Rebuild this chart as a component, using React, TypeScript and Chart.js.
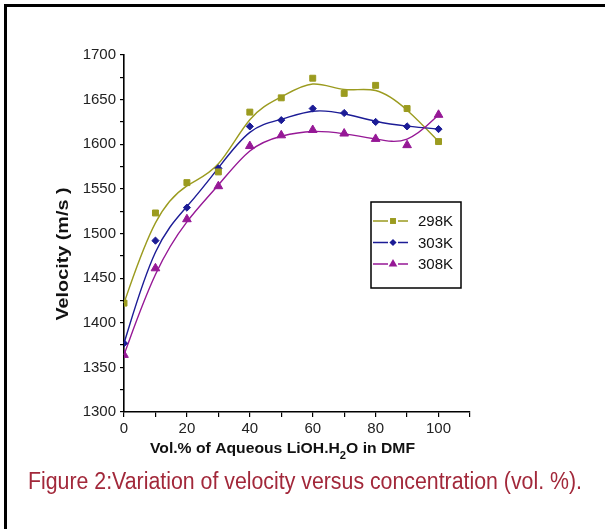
import { useEffect, useRef } from 'react';
import { Chart, registerables } from 'chart.js';

Chart.register(...registerables);

// Vol.% of aqueous LiOH.H2O in DMF
const concentrations = [0, 10, 20, 30, 40, 50, 60, 70, 80, 90, 100];
// Ultrasonic velocity (m/s) at each temperature
const velocity298 = [1422, 1523, 1557, 1569, 1636, 1652, 1674, 1657, 1666, 1640, 1603];
const velocity303 = [1377, 1492, 1529, 1573, 1620, 1627, 1640, 1635, 1625, 1620, 1617];
const velocity308 = [1364, 1461, 1516, 1553, 1598, 1610, 1616, 1612, 1606, 1599, 1633];
const seriesLabels = ['298K', '303K', '308K'];
const seriesColors = ['#9b9b1f', '#1c1c96', '#961896'];
const seriesMarkers = ['rect', 'rectRot', 'triangle'];
const markerRadii = [4.2, 3.6, 5];

const xTickLabels = [0, 20, 40, 60, 80, 100];
const yTickLabels = [1300, 1350, 1400, 1450, 1500, 1550, 1600, 1650, 1700];

const xTitleMain = 'Vol.% of Aqueous LiOH.H';
const xTitleSub = '2';
const xTitleEnd = 'O in DMF';
const yTitle = 'Velocity (m/s )';
const caption = 'Figure 2:Variation of velocity versus concentration (vol. %).';

const TICK_FONT = '"Liberation Sans", Arial, sans-serif';

// Smooth connecting curves: clamped uniform cubic B-spline using the data points as control points
const bsplinePlugin = {
  id: 'bsplineLines',
  beforeDatasetsDraw(chart: any) {
    const ctx = chart.ctx;
    chart.data.datasets.forEach((ds: any, i: number) => {
      const meta = chart.getDatasetMeta(i);
      const pts = meta.data.map((p: any) => ({ x: p.x, y: p.y }));
      if (pts.length < 2) return;
      const first = pts[0];
      const last = pts[pts.length - 1];
      const q = [first, first, ...pts, last, last];
      ctx.save();
      ctx.strokeStyle = ds.borderColor;
      ctx.lineWidth = 1.4;
      ctx.beginPath();
      for (let k = 1; k < q.length - 2; k++) {
        const a = q[k - 1], b = q[k], c = q[k + 1], d = q[k + 2];
        const sx = (a.x + 4 * b.x + c.x) / 6, sy = (a.y + 4 * b.y + c.y) / 6;
        const c1x = (2 * b.x + c.x) / 3, c1y = (2 * b.y + c.y) / 3;
        const c2x = (b.x + 2 * c.x) / 3, c2y = (b.y + 2 * c.y) / 3;
        const ex = (b.x + 4 * c.x + d.x) / 6, ey = (b.y + 4 * c.y + d.y) / 6;
        if (k === 1) ctx.moveTo(sx, sy);
        ctx.bezierCurveTo(c1x, c1y, c2x, c2y, ex, ey);
      }
      ctx.stroke();
      ctx.restore();
    });
  },
};

function drawMarker(ctx: CanvasRenderingContext2D, style: string, x: number, y: number, r: number, color: string) {
  ctx.save();
  ctx.fillStyle = color;
  ctx.beginPath();
  if (style === 'rect') {
    const s = Math.SQRT1_2 * r;
    ctx.rect(x - s, y - s, 2 * s, 2 * s);
  } else if (style === 'rectRot') {
    ctx.moveTo(x, y - r);
    ctx.lineTo(x + r, y);
    ctx.lineTo(x, y + r);
    ctx.lineTo(x - r, y);
    ctx.closePath();
  } else {
    const h = r * 1.5;
    const half = (r * Math.sqrt(3)) / 2;
    ctx.moveTo(x, y - (2 * h) / 3);
    ctx.lineTo(x + half, y + h / 3);
    ctx.lineTo(x - half, y + h / 3);
    ctx.closePath();
  }
  ctx.fill();
  ctx.restore();
}

// Frame, axis titles, in-plot legend and caption
const decorPlugin = {
  id: 'decor',
  afterDraw(chart: any) {
    const ctx: CanvasRenderingContext2D = chart.ctx;
    const area = chart.chartArea;
    ctx.save();

    // frame edges
    ctx.fillStyle = '#000';
    ctx.fillRect(4, 4, 601, 3);
    ctx.fillRect(4, 4, 3, 525);

    // y-axis title
    ctx.save();
    ctx.translate(63, 254);
    ctx.rotate(-Math.PI / 2);
    ctx.font = `bold 17px ${TICK_FONT}`;
    ctx.fillStyle = '#111';
    ctx.textAlign = 'center';
    ctx.textBaseline = 'middle';
    const yw = ctx.measureText(yTitle).width;
    ctx.scale(133 / yw, 1);
    ctx.fillText(yTitle, 0, 0);
    ctx.restore();

    // x-axis title with subscript
    ctx.save();
    ctx.fillStyle = '#111';
    ctx.textBaseline = 'alphabetic';
    const mainFont = `bold 14px ${TICK_FONT}`;
    const subFont = `bold 10px ${TICK_FONT}`;
    ctx.font = mainFont;
    const w1 = ctx.measureText(xTitleMain).width;
    const w3 = ctx.measureText(xTitleEnd).width;
    ctx.font = subFont;
    const w2 = ctx.measureText(xTitleSub).width;
    const total = w1 + w2 + w3;
    const sx = 265 / total;
    ctx.translate(150, 453);
    ctx.scale(sx, 1);
    ctx.font = mainFont;
    ctx.fillText(xTitleMain, 0, 0);
    ctx.font = subFont;
    ctx.fillText(xTitleSub, w1, 6);
    ctx.font = mainFont;
    ctx.fillText(xTitleEnd, w1 + w2, 0);
    ctx.restore();

    // legend box inside the plot
    const lx = area.left + 247;
    const ly = area.top + 147;
    ctx.save();
    ctx.strokeStyle = '#000';
    ctx.lineWidth = 1.5;
    ctx.strokeRect(lx, ly, 90, 86);
    ctx.font = `15px ${TICK_FONT}`;
    ctx.textBaseline = 'middle';
    ctx.textAlign = 'left';
    seriesLabels.forEach((label, i) => {
      const ry = ly + 19 + i * 21.5;
      const color = seriesColors[i];
      ctx.strokeStyle = color;
      ctx.lineWidth = 1.4;
      ctx.beginPath();
      ctx.moveTo(lx + 2, ry);
      ctx.lineTo(lx + 17, ry);
      ctx.moveTo(lx + 27, ry);
      ctx.lineTo(lx + 37, ry);
      ctx.stroke();
      drawMarker(ctx, seriesMarkers[i], lx + 22, ry, markerRadii[i], color);
      ctx.fillStyle = '#111';
      ctx.fillText(label, lx + 47, ry + 1);
    });
    ctx.restore();

    // caption (condensed by horizontal scaling)
    ctx.save();
    ctx.fillStyle = '#a2283a';
    ctx.font = `23px "Liberation Sans Narrow", "Liberation Sans", Arial, sans-serif`;
    ctx.textBaseline = 'alphabetic';
    const cw = ctx.measureText(caption).width;
    ctx.translate(28, 489);
    ctx.scale(554 / cw, 1);
    ctx.fillText(caption, 0, 0);
    ctx.restore();

    ctx.restore();
  },
};

export default function App() {
  const canvasRef = useRef<HTMLCanvasElement | null>(null);

  useEffect(() => {
    const canvas = canvasRef.current;
    if (!canvas) return;
    const series = [velocity298, velocity303, velocity308];
    const chart = new Chart(canvas, {
      type: 'scatter',
      data: {
        datasets: series.map((values, i) => ({
          label: seriesLabels[i],
          data: concentrations.map((c, j) => ({ x: c, y: values[j] })),
          borderColor: seriesColors[i],
          backgroundColor: seriesColors[i],
          pointStyle: seriesMarkers[i] as any,
          pointRadius: markerRadii[i],
          pointBorderWidth: 1,
          showLine: false,
        })),
      },
      options: {
        responsive: false,
        devicePixelRatio: 1,
        animation: false,
        layout: { padding: { left: 64, top: 55, right: 135, bottom: 87 } },
        plugins: {
          legend: { display: false },
          tooltip: { enabled: false },
        },
        scales: {
          x: {
            type: 'linear',
            min: 0,
            max: 110,
            afterFit: (s: any) => { s.height = 30; },
            ticks: {
              stepSize: 10,
              autoSkip: false,
              maxRotation: 0,
              padding: 3,
              color: '#222',
              font: { family: TICK_FONT, size: 15 },
              callback: (v: any) => (xTickLabels.includes(Number(v)) ? String(v) : ''),
            },
            grid: { drawOnChartArea: false, drawTicks: true, tickLength: 5, color: '#000', lineWidth: 1.2 },
            border: { display: true, color: '#000', width: 1.6 },
          },
          y: {
            min: 1300,
            max: 1700,
            afterFit: (s: any) => { s.width = 60; },
            ticks: {
              stepSize: 25,
              autoSkip: false,
              padding: 4,
              color: '#222',
              font: { family: TICK_FONT, size: 15 },
              callback: (v: any) => (yTickLabels.includes(Number(v)) ? String(v) : ''),
            },
            grid: { drawOnChartArea: false, drawTicks: true, tickLength: 4, color: '#000', lineWidth: 1.2 },
            border: { display: true, color: '#000', width: 1.6 },
          },
        },
      },
      plugins: [bsplinePlugin, decorPlugin],
    });
    return () => chart.destroy();
  }, []);

  return (
    <div style={{ position: 'absolute', left: 0, top: 0, width: 605, height: 529, background: '#fff' }}>
      <canvas ref={canvasRef} width={605} height={529} style={{ display: 'block', width: 605, height: 529 }} />
    </div>
  );
}
